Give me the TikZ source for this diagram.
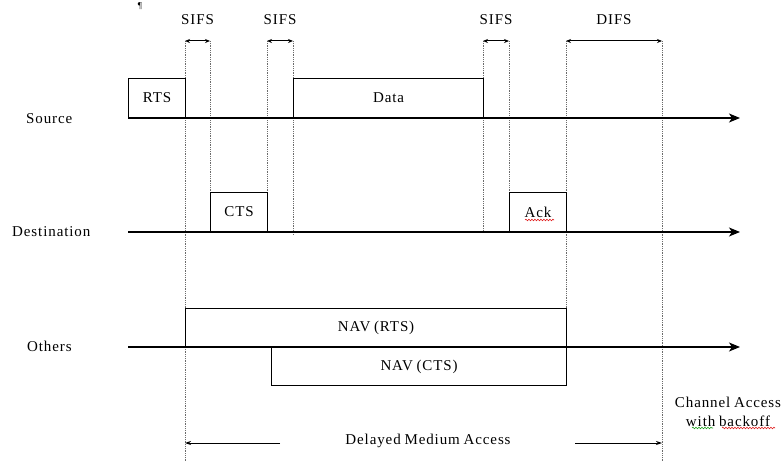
\documentclass[tikz,border=0pt]{standalone}
\usepackage{fontspec}
\setmainfont{Liberation Serif}[LetterSpace=6,WordSpace=0.8]
\usetikzlibrary{arrows.meta,decorations.pathmorphing}
\definecolor{cguide}{HTML}{6b6b6b}
\definecolor{cspell}{HTML}{e02020}
\definecolor{cgram}{HTML}{20a020}

\tikzset{
  lbl/.style={font=\fontsize{15}{19}\selectfont,inner sep=0pt},
  frame/.style={draw,line width=1.2pt,anchor=south west,lbl},
  navbox/.style={draw,line width=1.2pt,lbl},
  axis/.style={line width=1.4pt,-{Stealth[length=11pt,width=9pt,inset=3pt]}},
  guide/.style={cguide,line width=0.8pt,densely dotted},
  gap/.style={line width=1pt,{Stealth[length=5pt,width=4pt]}-{Stealth[length=5pt,width=4pt]}},
  span/.style={line width=0.9pt,-{Stealth[length=6pt,width=4pt]}},
  squiggle/.style={line width=0.6pt,decorate,decoration={snake,amplitude=0.8pt,segment length=3pt}}
}

\begin{document}
\begin{tikzpicture}[x=1pt,y=-1pt]
  \clip (0,0) rectangle (782,462);
  \node[font=\small,inner sep=0pt] (mark) at (140,6) {\P};

  % time lines
  \coordinate (s0) at (128,118); \coordinate (s1) at (740,118);
  \coordinate (d0) at (128,232); \coordinate (d1) at (740,232);
  \coordinate (o0) at (128,347); \coordinate (o1) at (740,347);
  \node[lbl,anchor=west] (src) at (26,119) {Source};
  \node[lbl,anchor=west] (dst) at (12,232) {Destination};
  \node[lbl,anchor=west] (oth) at (27,346) {Others};

  % dotted guides
  \foreach \gx/\gy in {185/462,210/193,267/193,293/234,483/232,509/193,566/309,662/462}
    \draw[guide] (\gx,41) -- (\gx,\gy);

  \draw[axis] (s0) -- (s1);
  \draw[axis] (d0) -- (d1);
  \draw[axis] (o0) -- (o1);

  % frames
  \node[frame,minimum width=57,minimum height=39] (rts) at (128,118) {RTS};
  \node[frame,minimum width=190,minimum height=39] (data) at (293,118) {Data};
  \node[frame,minimum width=57,minimum height=39] (cts) at (210,232) {CTS};
  \node[frame,minimum width=57,minimum height=39] (ack) at (509,232) {Ack};
  \node[navbox,anchor=south west,minimum width=381,minimum height=38] (navr) at (185,347) {NAV (RTS)};
  \node[navbox,anchor=north west,minimum width=295,minimum height=38] (navc) at (271,347) {NAV (CTS)};
  \draw[squiggle,cspell] (525,220) -- (554,220);

  % interframe spaces
  \draw[gap] (185,41) -- (210,41) node[lbl,midway,yshift=21pt] (sifs1) {SIFS};
  \draw[gap] (267,41) -- (293,41) node[lbl,midway,yshift=21pt] (sifs2) {SIFS};
  \draw[gap] (483,41) -- (509,41) node[lbl,midway,yshift=21pt] (sifs3) {SIFS};
  \draw[gap] (566,41) -- (662,41) node[lbl,midway,yshift=21pt] (difs) {DIFS};

  % access
  \node[lbl] (delay) at (428,441) {Delayed Medium Access};
  \coordinate (dl) at (185,443); \coordinate (dr) at (662,443);
  \draw[span] (280,443) -- (dl);
  \draw[span] (575,443) -- (dr);
  \node[lbl,align=center] (chan) at (728,412) {Channel Access\\with backoff};
  \draw[squiggle,cgram] (692,428) -- (713,428);
  \draw[squiggle,cspell] (722,428) -- (775,428);
\end{tikzpicture}
\end{document}
